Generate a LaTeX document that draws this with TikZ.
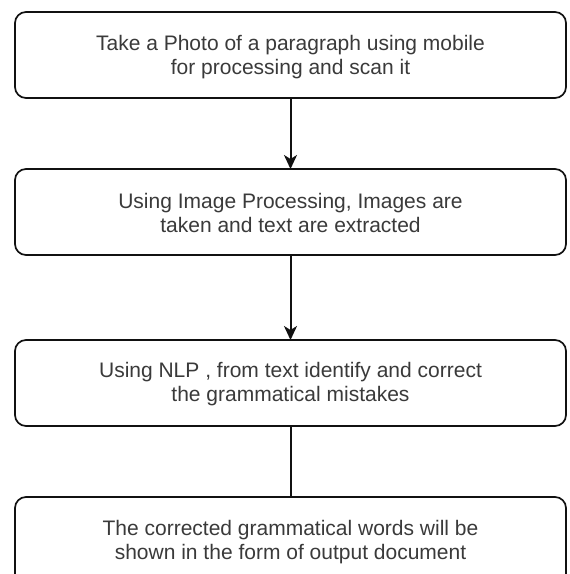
\documentclass[tikz,border=0pt]{standalone}
\usepackage{fontspec}
\setmainfont{Liberation Sans}
\usetikzlibrary{arrows.meta}
\definecolor{txt}{HTML}{3A3A3A}
\definecolor{edge}{HTML}{111111}
\tikzset{
  flowbox/.style={draw=edge, line width=1.7pt, rounded corners=11pt, fill=white},
  flowtext/.style={text=txt, align=center, font=\fontsize{21}{23.5}\selectfont},
  flowarrow/.style={draw=edge, line width=2pt, -{Stealth[length=14pt,width=13pt,inset=4pt]}},
  flowline/.style={draw=edge, line width=2pt}
}
\begin{document}
\begin{tikzpicture}[x=1pt,y=-1pt]
\path[use as bounding box, clip] (0,0) rectangle (570,574);
\fill[white] (0,0) rectangle (570,574);
% boxes
\draw[flowbox] (15,12) rectangle (566,98);
\coordinate (b1t) at (290.5,12); \coordinate (b1b) at (290.5,98);
\node[flowtext] (t1) at (290.5,57) {Take a Photo of a paragraph using mobile\\for processing and scan it};
\draw[flowbox] (15,169) rectangle (566,255);
\coordinate (b2t) at (290.5,169); \coordinate (b2b) at (290.5,255);
\node[flowtext] (t2) at (290.5,213) {Using Image Processing, Images are\\taken and text are extracted};
\draw[flowbox] (15,340) rectangle (566,426);
\coordinate (b3t) at (290.5,340); \coordinate (b3b) at (290.5,426);
\node[flowtext] (t3) at (290.5,384) {Using NLP , from text identify and correct\\the grammatical mistakes};
\draw[flowbox] (15,497) rectangle (566,600);
\coordinate (b4t) at (290.5,497);
\node[flowtext] (t4) at (290.5,542) {The corrected grammatical words will be\\shown in the form of output document};
% connectors
\draw[flowarrow] (b1b) -- (b2t);
\draw[flowarrow] (b2b) -- (b3t);
\draw[flowline] (b3b) -- (b4t);
\end{tikzpicture}
\end{document}
